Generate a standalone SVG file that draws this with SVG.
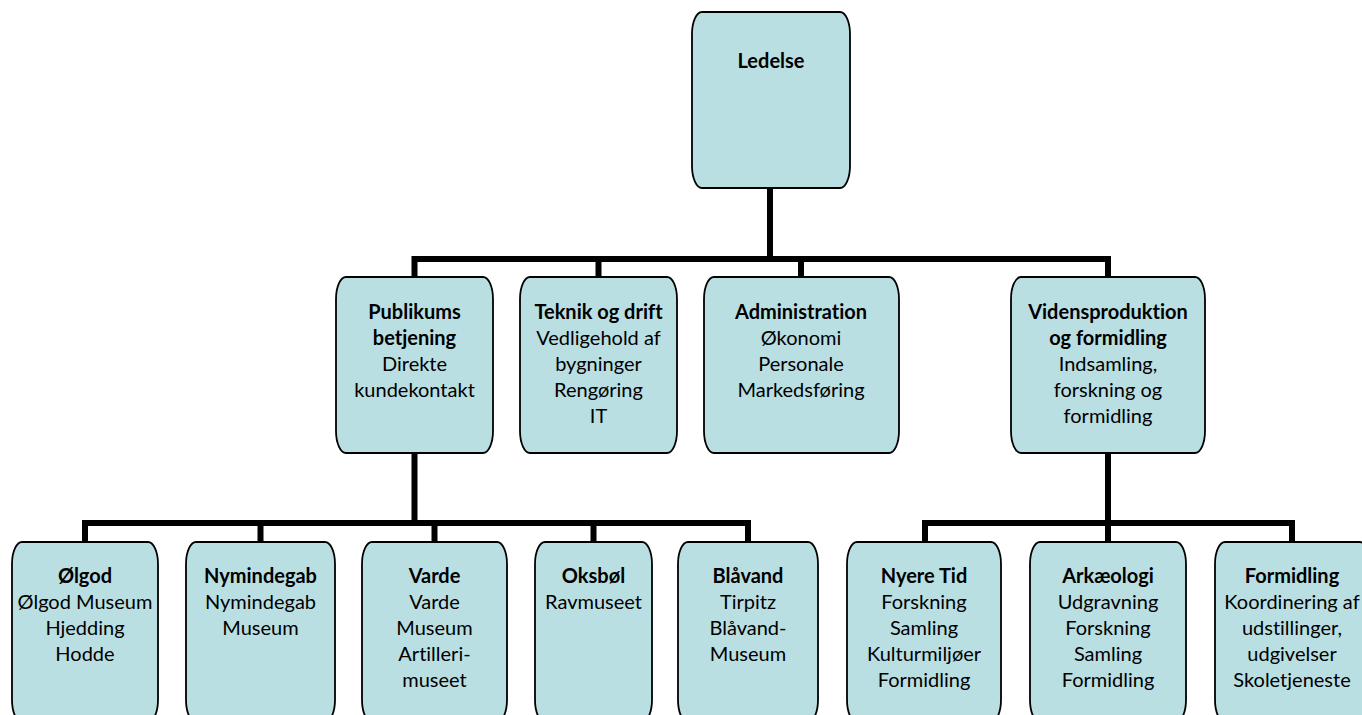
<svg xmlns="http://www.w3.org/2000/svg" width="1362" height="715" viewBox="0 0 1362 715">
<style>
.box{fill:#BADFE3;stroke:#000;stroke-width:1.8}
.t{font-family:Lato,"Liberation Sans",sans-serif;font-size:20px;fill:#000;text-anchor:middle;font-variant-ligatures:none}
.b{font-weight:bold}
.c{fill:none;stroke:#000;stroke-width:6;stroke-linejoin:miter}
</style>
<rect width="1362" height="715" fill="#fff"/>
<g id="connectors">
<path class="c" d="M770 188 V259"/>
<path class="c" d="M414.5 277 V259 H1108 V277"/>
<path class="c" d="M598.5 259 V277"/>
<path class="c" d="M801 259 V277"/>
<path class="c" d="M414.5 453 V523"/>
<path class="c" d="M85 542 V523 H748 V542"/>
<path class="c" d="M260.5 523 V542"/>
<path class="c" d="M434.5 523 V542"/>
<path class="c" d="M593.5 523 V542"/>
<path class="c" d="M1108 453 V542"/>
<path class="c" d="M925 542 V523 H1292 V542"/>
</g>
<g id="ledelse">
<rect class="box" x="692" y="12" width="158" height="176" rx="10" ry="22"/>
<text class="t b" x="771" y="68">Ledelse</text>
</g>
<g id="publikums">
<rect class="box" x="336" y="277" width="157" height="176" rx="10" ry="22"/>
<text class="t" x="414.5" y="319"><tspan class="b" x="414.5">Publikums</tspan><tspan class="b" x="414.5" dy="26">betjening</tspan><tspan x="414.5" dy="26">Direkte</tspan><tspan x="414.5" dy="26">kundekontakt</tspan></text>
</g>
<g id="teknik">
<rect class="box" x="520" y="277" width="157" height="176" rx="10" ry="22"/>
<text class="t" x="598.5" y="319"><tspan class="b" x="598.5">Teknik og drift</tspan><tspan x="598.5" dy="26">Vedligehold af</tspan><tspan x="598.5" dy="26">bygninger</tspan><tspan x="598.5" dy="26">Rengøring</tspan><tspan x="598.5" dy="26">IT</tspan></text>
</g>
<g id="administration">
<rect class="box" x="704" y="277" width="195" height="176" rx="10" ry="22"/>
<text class="t" x="801" y="319"><tspan class="b" x="801">Administration</tspan><tspan x="801" dy="26">Økonomi</tspan><tspan x="801" dy="26">Personale</tspan><tspan x="801" dy="26">Markedsføring</tspan></text>
</g>
<g id="videns">
<rect class="box" x="1011" y="277" width="194" height="176" rx="10" ry="22"/>
<text class="t" x="1108" y="319"><tspan class="b" x="1108">Vidensproduktion</tspan><tspan class="b" x="1108" dy="26">og formidling</tspan><tspan x="1108" dy="26">Indsamling,</tspan><tspan x="1108" dy="26">forskning og</tspan><tspan x="1108" dy="26">formidling</tspan></text>
</g>
<g id="olgod">
<rect class="box" x="12" y="542" width="146" height="180" rx="10" ry="22"/>
<text class="t" x="85" y="583"><tspan class="b" x="85">Ølgod</tspan><tspan x="85" dy="26">Ølgod Museum</tspan><tspan x="85" dy="26">Hjedding</tspan><tspan x="85" dy="26">Hodde</tspan></text>
</g>
<g id="nymindegab">
<rect class="box" x="186" y="542" width="149" height="180" rx="10" ry="22"/>
<text class="t" x="260.5" y="583"><tspan class="b" x="260.5">Nymindegab</tspan><tspan x="260.5" dy="26">Nymindegab</tspan><tspan x="260.5" dy="26">Museum</tspan></text>
</g>
<g id="varde">
<rect class="box" x="362" y="542" width="145" height="180" rx="10" ry="22"/>
<text class="t" x="434.5" y="583"><tspan class="b" x="434.5">Varde</tspan><tspan x="434.5" dy="26">Varde</tspan><tspan x="434.5" dy="26">Museum</tspan><tspan x="434.5" dy="26">Artilleri-</tspan><tspan x="434.5" dy="26">museet</tspan></text>
</g>
<g id="oksbol">
<rect class="box" x="535" y="542" width="117" height="180" rx="10" ry="22"/>
<text class="t" x="593.5" y="583"><tspan class="b" x="593.5">Oksbøl</tspan><tspan x="593.5" dy="26">Ravmuseet</tspan></text>
</g>
<g id="blavand">
<rect class="box" x="678" y="542" width="140" height="180" rx="10" ry="22"/>
<text class="t" x="748" y="583"><tspan class="b" x="748">Blåvand</tspan><tspan x="748" dy="26">Tirpitz</tspan><tspan x="748" dy="26">Blåvand-</tspan><tspan x="748" dy="26">Museum</tspan></text>
</g>
<g id="nyere">
<rect class="box" x="847" y="542" width="154" height="180" rx="10" ry="22"/>
<text class="t" x="924" y="583"><tspan class="b" x="924">Nyere Tid</tspan><tspan x="924" dy="26">Forskning</tspan><tspan x="924" dy="26">Samling</tspan><tspan x="924" dy="26">Kulturmiljøer</tspan><tspan x="924" dy="26">Formidling</tspan></text>
</g>
<g id="arkaeologi">
<rect class="box" x="1030" y="542" width="156" height="180" rx="10" ry="22"/>
<text class="t" x="1108" y="583"><tspan class="b" x="1108">Arkæologi</tspan><tspan x="1108" dy="26">Udgravning</tspan><tspan x="1108" dy="26">Forskning</tspan><tspan x="1108" dy="26">Samling</tspan><tspan x="1108" dy="26">Formidling</tspan></text>
</g>
<g id="formidling">
<rect class="box" x="1215" y="542" width="155" height="180" rx="10" ry="22"/>
<text class="t" x="1292" y="583"><tspan class="b" x="1292">Formidling</tspan><tspan x="1292" dy="26">Koordinering af</tspan><tspan x="1292" dy="26">udstillinger,</tspan><tspan x="1292" dy="26">udgivelser</tspan><tspan x="1292" dy="26">Skoletjeneste</tspan></text>
</g>
</svg>
